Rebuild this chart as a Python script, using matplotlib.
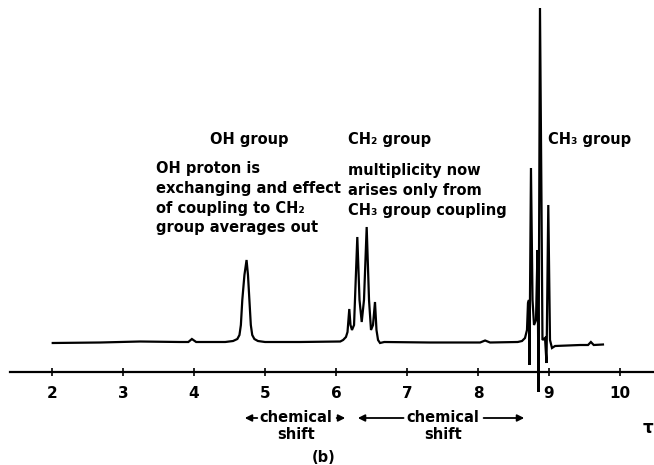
import matplotlib
matplotlib.use('Agg')
import matplotlib.pyplot as plt

# Spectrum trace (tau, signal above baseline)
trace_tau = [2.01, 2.68, 3.24, 3.80, 3.92, 3.97, 4.03, 4.44, 4.55, 4.61,
             4.64, 4.66, 4.68, 4.71, 4.74, 4.76, 4.78, 4.80, 4.82, 4.85,
             4.90, 5.00, 5.49, 6.06, 6.10, 6.14,
             6.162, 6.187, 6.204, 6.225, 6.254, 6.300, 6.331, 6.362, 6.394, 6.432,
             6.465, 6.493, 6.521, 6.549, 6.570, 6.592, 6.620, 6.68,
             7.32, 8.03, 8.10, 8.17, 8.56,
             8.620, 8.662, 8.690, 8.704, 8.718, 8.725, 8.746, 8.768, 8.789, 8.817,
             8.838, 8.852, 8.873, 8.894, 8.908, 8.944, 8.965, 8.990, 9.014, 9.042,
             9.085, 9.44, 9.55, 9.59, 9.63, 9.76]
trace_int = [-1, -0.5, 0.5, 0, 0, 3, 0, 0, 1, 3,
             7, 17, 42, 67, 82, 67, 42, 17, 7, 3,
             1, 0, 0, 0.5, 2, 5,
             10, 33, 17, 12, 17, 105, 42, 20, 42, 115,
             42, 12, 17, 40, 12, 2, -1, 0,
             -0.5, -0.5, 1.5, -0.5, 0,
             1, 4, 12, 39, 42, -23, 174, 42, 17, 22,
             92, -50, 334, 142, 2, 4, -21, 137, 2, -6,
             -4, -3, -3, 0, -3, -2.5]

tick_vals = [2, 3, 4, 5, 6, 7, 8, 9, 10]

oh_title = 'OH group'
oh_note = 'OH proton is\nexchanging and effect\nof coupling to CH₂\ngroup averages out'
ch2_title = 'CH₂ group'
ch2_note = 'multiplicity now\narises only from\nCH₃ group coupling'
ch3_title = 'CH₃ group'

plt.rcParams['font.family'] = ['DejaVu Sans']

fig = plt.figure(figsize=(6.54, 4.65), dpi=100)
ax = fig.add_axes([10 / 654, 93 / 465, 644 / 654, 372 / 465])
ax.set_xlim(1.408, 10.479)
ax.set_ylim(-30, 342)

ax.plot(trace_tau, trace_int, color='black', lw=1.6, clip_on=False,
        solid_joinstyle='miter')

for s in ['left', 'top', 'right']:
    ax.spines[s].set_visible(False)
ax.spines['bottom'].set_linewidth(1.6)
ax.set_yticks([])
ax.set_xticks(tick_vals)
ax.set_xticklabels([str(t) for t in tick_vals], fontsize=11, fontweight='bold')
ax.tick_params(axis='x', direction='inout', length=6, width=1.2, pad=7)

# group labels and notes
txt = dict(fontsize=10.5, fontweight='bold', color='black')
ax.text(4.225, 202, oh_title, va='center', ha='left', **txt)
ax.text(3.465, 181, oh_note, va='top', ha='left', linespacing=1.4, **txt)
ax.text(6.17, 202, ch2_title, va='center', ha='left', **txt)
ax.text(6.17, 179, ch2_note, va='top', ha='left', linespacing=1.4, **txt)
ax.text(8.99, 202, ch3_title, va='center', ha='left', **txt)

# chemical shift markers below the axis
arr = dict(arrowstyle='-|>', color='black', lw=1.3, mutation_scale=10)
ax.text(5.437, -84, 'chemical\nshift', ha='center', va='center',
        linespacing=1.1, **txt)
ax.annotate('', xy=(4.676, -76), xytext=(4.93, -76), arrowprops=arr,
            annotation_clip=False)
ax.annotate('', xy=(6.169, -76), xytext=(5.97, -76), arrowprops=arr,
            annotation_clip=False)
ax.text(7.507, -84, 'chemical\nshift', ha='center', va='center',
        linespacing=1.1, **txt)
ax.annotate('', xy=(6.268, -76), xytext=(6.99, -76), arrowprops=arr,
            annotation_clip=False)
ax.annotate('', xy=(8.69, -76), xytext=(8.04, -76), arrowprops=arr,
            annotation_clip=False)

ax.text(10.39, -86, 'τ', ha='center', va='center', fontsize=12, fontweight='bold')
ax.text(5.82, -115, '(b)', ha='center', va='center', fontsize=10.5, fontweight='bold')

fig.savefig('out.png', dpi=100)
